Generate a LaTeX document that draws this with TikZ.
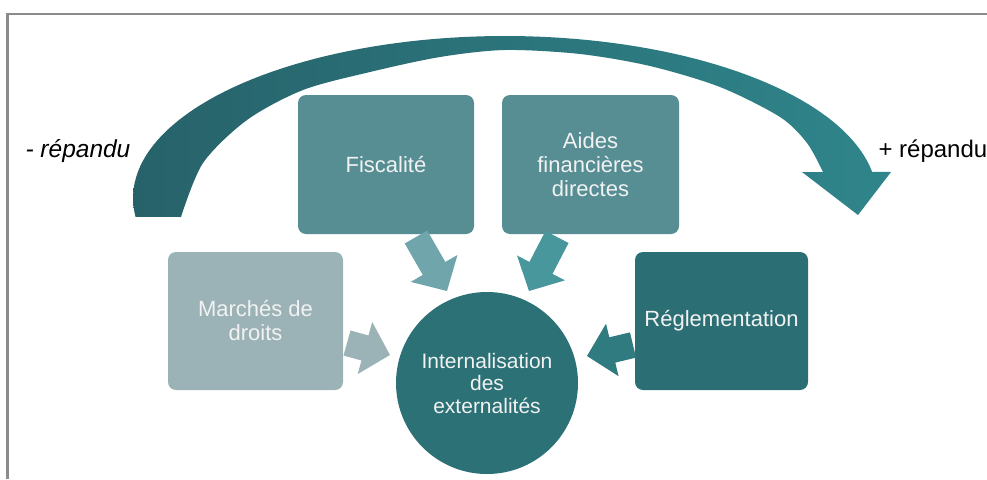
\documentclass[tikz,border=0pt]{standalone}
\usepackage{fontspec}
\setmainfont{Liberation Sans}
\usetikzlibrary{calc}
\definecolor{cMarche}{HTML}{9BB3B6}
\definecolor{cFisc}{HTML}{568E94}
\definecolor{cRegl}{HTML}{2B6F75}
\definecolor{cCirc}{HTML}{2B7176}
\definecolor{aFisc}{HTML}{6FA5AB}
\definecolor{aAides}{HTML}{47979D}
\definecolor{aRegl}{HTML}{2F7B7F}
\definecolor{arcL}{HTML}{27626A}
\definecolor{arcR}{HTML}{2F858B}
\definecolor{frameG}{HTML}{8C8C8C}
\definecolor{txtW}{HTML}{F2F2F2}
\newcommand\blockarr[3]{%
  \coordinate (#1-h) at ($(#2)!26pt!(#1)$);
  \fill[#3] ($(#1)!13pt!90:(#2)$) -- ($(#1-h)!13pt!90:(#2)$) -- ($(#1-h)!27pt!90:(#2)$) -- (#2)
     -- ($(#1-h)!27pt!-90:(#2)$) -- ($(#1-h)!13pt!-90:(#2)$) -- ($(#1)!13pt!-90:(#2)$) -- cycle;}
\begin{document}
\begin{tikzpicture}[x=1pt,y=-1pt,
  box/.style={rounded corners=8pt, text=txtW, align=center, inner sep=0pt,
    minimum width=175pt, minimum height=138pt,
    font=\fontsize{22pt}{24pt}\selectfont},
  lbl/.style={anchor=base west, text=black, font=\fontsize{24pt}{26pt}\selectfont}]
\useasboundingbox (0,0) rectangle (987,479);
\fill[white] (0,0) rectangle (987,479);
% frame
\draw[frameG, line width=2.2pt] (987,14) -- (7.5,14) -- (7.5,479);
% big curved arrow
\shade[left color=arcL, right color=arcR]
  plot[domain=0:1, samples=90] ({505+372*cos(186.7-177.5*\x)},{198-162*sin(186.7-177.5*\x)})
  -- (891,172) -- (858,215) -- (802,172) --
  plot[smooth] coordinates {(823,172) (807,143) (780,117) (720,87) (650,66) (580,54) (505,50)
    (440,57) (370,72) (303,90) (247,120) (203,163) (181,217)} -- cycle;
% labels
\node[lbl, font=\fontsize{24.5pt}{26pt}\selectfont\itshape] (moins) at (22,157) {- répandu};
\node[lbl] (plus) at (875,157) {+ répandu};
% boxes
\node[box, fill=cMarche] (marche) at (255.5,321) {Marchés de\\droits};
\node[box, fill=cFisc, minimum width=176pt, minimum height=139pt] (fisc) at (386,164.5) {Fiscalité};
\node[box, fill=cFisc, minimum width=177pt, minimum height=139pt] (aides) at (590.5,164.5) {Aides\\financières\\directes};
\node[box, fill=cRegl, minimum width=173pt] (regl) at (721.5,321) {Réglementation};
% block arrows
\coordinate (fa) at (416,237); \coordinate (fb) at (447,291);
\coordinate (aa) at (557,237); \coordinate (ab) at (529,291);
\coordinate (ma) at (347,343); \coordinate (mb) at (390,355);
\coordinate (ra) at (633,345); \coordinate (rb) at (587,356);
\blockarr{fa}{fb}{aFisc}
\blockarr{aa}{ab}{aAides}
\blockarr{ma}{mb}{cMarche}
\blockarr{ra}{rb}{aRegl}
% circle
\node[circle, fill=cCirc, minimum size=182pt, inner sep=0pt, text=txtW, align=center,
  font=\fontsize{21pt}{22.5pt}\selectfont] (circ) at (487,383) {Internalisation\\des\\externalités};
\end{tikzpicture}
\end{document}
